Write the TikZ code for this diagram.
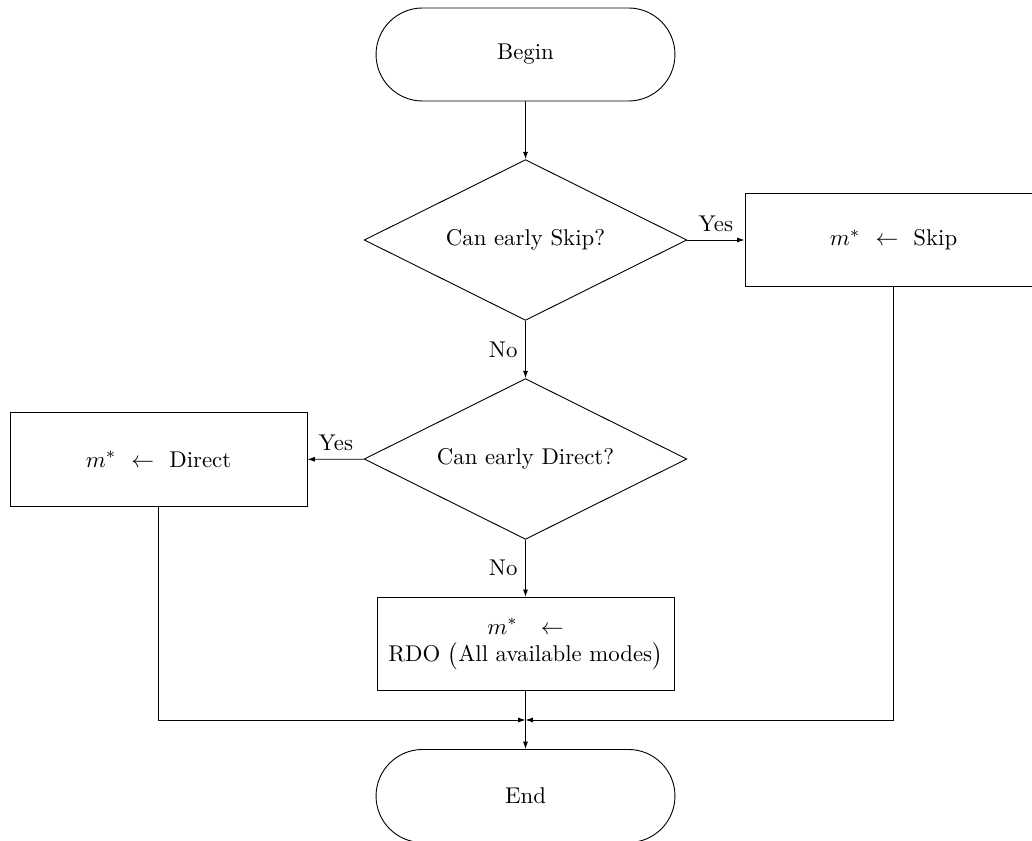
\documentclass[tikz,border=0pt]{standalone}
\usetikzlibrary{shapes.geometric,shapes.misc,arrows.meta}
\begin{document}
\begin{tikzpicture}[x=0.4386pt,y=-0.4386pt,
  terminal/.style={rounded rectangle, draw, minimum width=131.1pt, minimum height=40.8pt, inner sep=0pt},
  decision/.style={diamond, draw, aspect=2, inner sep=0pt, minimum width=141.5pt, minimum height=70.5pt},
  process/.style={rectangle, draw, minimum width=130.3pt, minimum height=41pt, inner sep=0pt, align=center},
  flow/.style={draw, -{Latex[length=3.2pt,width=2.2pt]}},
  lbl/.style={inner sep=3.33pt}]
  \useasboundingbox (0,0) rectangle (1032,841);
  \clip (0,0) rectangle (1032,841);

  % nodes of the flow
  \node[terminal] (begin) at (525.5,54.5) {Begin};
  \node[decision] (skipq) at (525.5,240) {Can early Skip?};
  \node[process] (skip) at (893.5,240) {$m^*$ \ $\leftarrow$ \ Skip};
  \node[decision] (directq) at (525.5,459) {Can early Direct?};
  \node[process] (direct) at (158.5,459.5) {$m^*$ \ $\leftarrow$ \ Direct};
  \node[process] (rdo) at (525.5,644) {$m^*$\hspace{10pt}$\leftarrow$\\RDO $\big($All available modes$\big)$};
  \node[terminal] (end) at (525.5,796) {End};
  \coordinate (join) at (525.5,720);

  % connectors
  \draw[flow] (begin) -- (skipq);
  \draw[flow] (skipq) -- node[lbl, above] {Yes} (skip);
  \draw[flow] (skipq) -- node[lbl, left] {No} (directq);
  \draw[flow] (directq) -- node[lbl, above] {Yes} (direct);
  \draw[flow] (directq) -- node[lbl, left] {No} (rdo);
  \draw[flow] (direct.south) |- (join);
  \draw[flow] (skip.south) |- (join);
  \draw[flow] (rdo) -- (end);
\end{tikzpicture}
\end{document}
